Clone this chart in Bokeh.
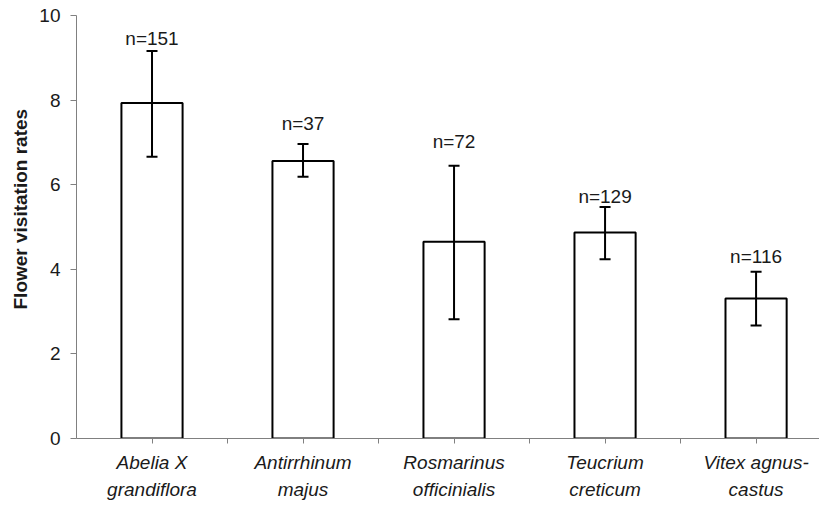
from bokeh.plotting import figure
from bokeh.models import ColumnDataSource, FixedTicker, Range1d, Whisker, Title
from bokeh.core.properties import value
from bokeh.embed import file_html
from bokeh.resources import INLINE

# ---- data ----
species = ["Abelia X\ngrandiflora", "Antirrhinum\nmajus", "Rosmarinus\nofficinialis",
           "Teucrium\ncreticum", "Vitex agnus-\ncastus"]
means = [7.93, 6.56, 4.65, 4.87, 3.31]
err_upper = [9.16, 6.96, 6.45, 5.47, 3.94]
err_lower = [6.66, 6.19, 2.82, 4.24, 2.67]
n_labels = ["n=151", "n=37", "n=72", "n=129", "n=116"]
label_y = [9.46, 7.44, 7.01, 5.72, 4.31]
y_ticks = [0, 2, 4, 6, 8, 10]
y_title = "Flower visitation rates"

xs = [i + 0.5 for i in range(len(species))]
FONT = "Liberation Sans"
TXT = "#1a1a1a"

p = figure(width=819, height=502, output_backend="svg", toolbar_location=None,
           x_range=Range1d(0, 4.92), y_range=Range1d(0, 10),
           min_border_left=76, min_border_right=0, min_border_top=15, min_border_bottom=62)
p.outline_line_color = None
p.xgrid.visible = False
p.ygrid.visible = False
p.background_fill_color = "white"
p.border_fill_color = "white"

src = ColumnDataSource(dict(x=xs, top=means, upper=err_upper, lower=err_lower,
                            lab=n_labels, ly=label_y))

p.vbar(x="x", top="top", bottom=0, width=0.405, source=src,
       fill_color="white", line_color="black", line_width=2)

w = Whisker(base="x", upper="upper", lower="lower", source=src,
            line_color="black", line_width=2, level="overlay")
for h in (w.upper_head, w.lower_head):
    h.size = 11
    h.line_width = 2
    h.line_color = "black"
p.add_layout(w)

p.text(x="x", y="ly", text="lab", source=src, text_align="center",
       text_baseline="middle", text_font=value(FONT), text_font_size="19px",
       text_color=TXT)

# x axis
ticks = [0.5, 1, 1.5, 2, 2.5, 3, 3.5, 4, 4.5]
p.xaxis.ticker = FixedTicker(ticks=ticks)
overrides = {}
for t in ticks:
    if abs(t - round(t)) < 1e-9:
        overrides[t] = ""
    else:
        overrides[t] = species[int(t)]
p.xaxis.major_label_overrides = overrides
p.xaxis.minor_tick_line_color = None
p.xaxis.major_tick_in = 0
p.xaxis.major_tick_out = 5
p.xaxis.axis_line_color = "#808080"
p.xaxis.major_tick_line_color = "#808080"
p.xaxis.major_label_text_font = FONT
p.xaxis.major_label_text_font_style = "italic"
p.xaxis.major_label_text_font_size = "19px"
p.xaxis.major_label_text_color = TXT
p.xaxis.major_label_standoff = 8
p.xaxis.major_label_text_line_height = 1.3

# y axis
p.yaxis.ticker = FixedTicker(ticks=y_ticks)
p.yaxis.minor_tick_line_color = None
p.yaxis.major_tick_in = 0
p.yaxis.major_tick_out = 6
p.yaxis.axis_line_color = "#808080"
p.yaxis.major_tick_line_color = "#808080"
p.yaxis.major_label_text_font = FONT
p.yaxis.major_label_text_font_size = "19px"
p.yaxis.major_label_text_color = TXT
p.yaxis.major_label_standoff = 10

# y axis title, slightly above the centre as in the original
p.add_layout(Title(text=y_title, align="left", offset=129, standoff=11,
                   text_font=FONT, text_font_style="bold", text_font_size="19px",
                   text_color=TXT), "left")

open("out.html", "w").write(file_html(p, INLINE))
